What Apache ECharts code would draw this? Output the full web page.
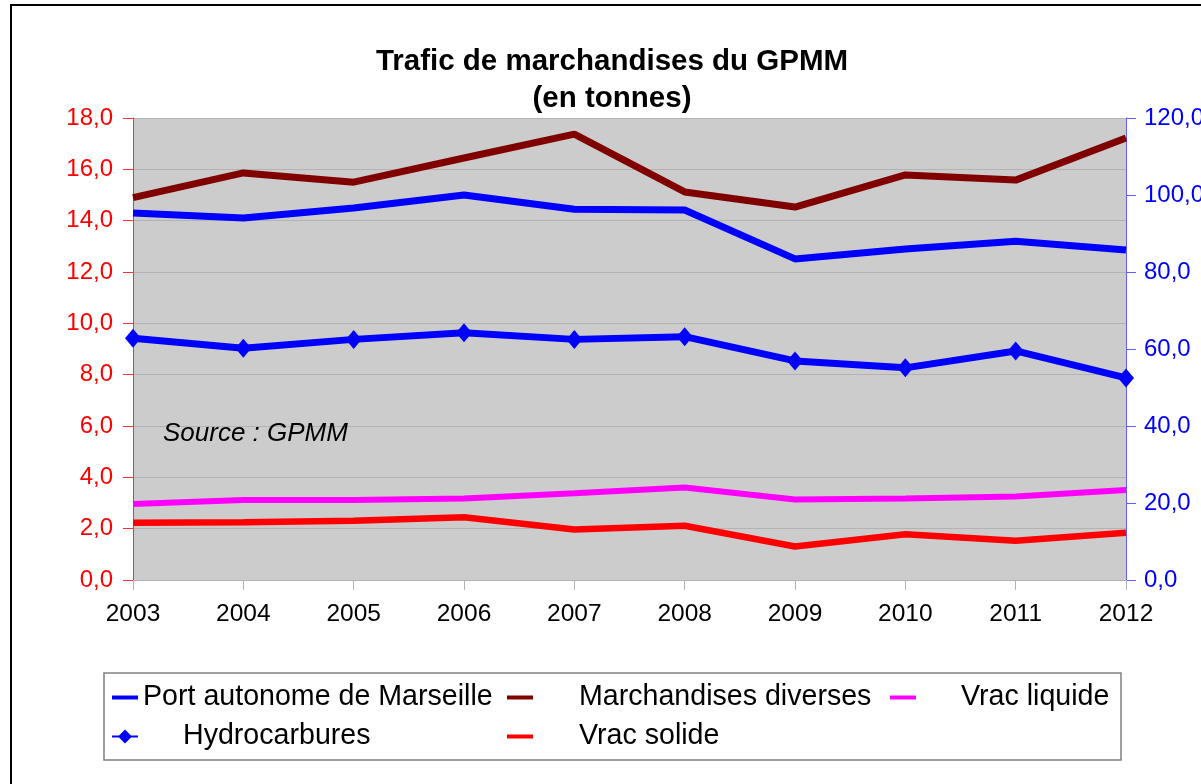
<!DOCTYPE html>
<html>
<head>
<meta charset="utf-8">
<script src="https://cdn.jsdelivr.net/npm/echarts@6/dist/echarts.min.js"></script>
<style>
html,body{margin:0;padding:0;background:#fff;overflow:hidden;}
#c{width:1201px;height:784px;}
</style>
</head>
<body>
<div id="c"></div>
<script>
// ---- Data (millions de tonnes) ----
var years = ['2003','2004','2005','2006','2007','2008','2009','2010','2011','2012'];
// right axis (0-120)
var portMarseille = [95.3, 94.0, 96.6, 100.0, 96.3, 96.1, 83.4, 86.0, 88.0, 85.7];
var hydrocarbures = [62.8, 60.2, 62.5, 64.2, 62.5, 63.2, 56.9, 55.1, 59.5, 52.5];
var vracSolide = [14.9, 15.0, 15.4, 16.3, 13.1, 14.1, 8.7, 11.9, 10.2, 12.3];
// left axis (0-18)
var marchandisesDiverses = [14.9, 15.86, 15.5, 16.44, 17.37, 15.12, 14.53, 15.78, 15.58, 17.22];
var vracLiquide = [2.96, 3.12, 3.12, 3.18, 3.38, 3.60, 3.14, 3.18, 3.25, 3.51];

var leftTicks = {min: 0, max: 18, interval: 2};
var rightTicks = {min: 0, max: 120, interval: 20};

var names = ['Port autonome de Marseille', 'Hydrocarbures', 'Marchandises diverses', 'Vrac solide', 'Vrac liquide'];

function fmt(v){ return v.toFixed(1).replace('.', ','); }

var chart = echarts.init(document.getElementById('c'), null, {width: 1201, height: 784});
var FONT = '"Liberation Sans", Arial, sans-serif';

function legendItem(name, left, top, icon, w, h, pad){
  return {
    data: [{name: name, icon: icon}],
    left: left, top: top, padding: 0,
    itemWidth: w, itemHeight: h,
    selectedMode: false,
    textStyle: {fontFamily: FONT, fontSize: 28.6, color: '#000', padding: [0,0,0,pad]}
  };
}
var hydroIcon = 'path://M0,6L7,6L13,0L19,6L26,6L26,8L19,8L13,14L7,8L0,8Z';

chart.setOption({
  backgroundColor: '#ffffff',
  animation: false,
  title: {
    text: 'Trafic de marchandises du GPMM\n(en tonnes)',
    left: 612, textAlign: 'center', top: 43, padding: 0,
    textStyle: {fontFamily: FONT, fontSize: 29.5, fontWeight: 'bold', color: '#000', lineHeight: 37}
  },
  graphic: [
    {type: 'rect', shape: {x: 11, y: 5, width: 1400, height: 1000}, style: {fill: 'none', stroke: '#000', lineWidth: 2}, z: 100, silent: true},
    {type: 'rect', shape: {x: 104, y: 673, width: 1017, height: 87}, style: {fill: 'none', stroke: '#808080', lineWidth: 1.5}, z: 100, silent: true},
    {type: 'text', x: 163, y: 434, style: {text: 'Source : GPMM', fontFamily: FONT, fontSize: 26, fontStyle: 'italic', fill: '#000', verticalAlign: 'middle'}, z: 100, silent: true}
  ],
  legend: [
    legendItem(names[0], 112, 683, 'rect', 26, 4, 0),
    legendItem(names[1], 112, 722, hydroIcon, 26, 14, 40),
    legendItem(names[2], 507, 683, 'rect', 26, 4, 41),
    legendItem(names[3], 507, 722, 'rect', 26, 4, 41),
    legendItem(names[4], 890, 683, 'rect', 26, 4, 40)
  ],
  grid: {
    left: 133, right: 75, top: 118, bottom: 204,
    show: true, backgroundColor: '#cccccc', borderWidth: 0,
    containLabel: false, outerBoundsMode: 'none'
  },
  xAxis: {
    type: 'category', data: years, boundaryGap: false,
    axisLine: {show: true, lineStyle: {color: '#b3b3b3', width: 1}},
    axisTick: {show: true, length: 10, lineStyle: {color: '#b3b3b3'}},
    axisLabel: {fontFamily: FONT, fontSize: 24.5, color: '#000', margin: 22},
    splitLine: {show: false}
  },
  yAxis: [
    {
      type: 'value', position: 'left', min: leftTicks.min, max: leftTicks.max, interval: leftTicks.interval,
      axisLine: {show: true, lineStyle: {color: '#ff3030', width: 1}},
      axisTick: {show: true, length: 10, lineStyle: {color: '#ff3030'}},
      axisLabel: {fontFamily: FONT, fontSize: 24, color: '#ff0000', margin: 20, formatter: fmt},
      splitLine: {show: true, lineStyle: {color: '#b3b3b3', width: 1}}
    },
    {
      type: 'value', position: 'right', min: rightTicks.min, max: rightTicks.max, interval: rightTicks.interval,
      axisLine: {show: true, lineStyle: {color: '#6060ff', width: 1}},
      axisTick: {show: true, length: 10, lineStyle: {color: '#6060ff'}},
      axisLabel: {fontFamily: FONT, fontSize: 24, color: '#0000ff', margin: 18, formatter: fmt},
      splitLine: {show: false}
    }
  ],
  series: [
    {name: names[2], type: 'line', yAxisIndex: 0, data: marchandisesDiverses, showSymbol: false,
      lineStyle: {color: '#800000', width: 7}, itemStyle: {color: '#800000'}},
    {name: names[4], type: 'line', yAxisIndex: 0, data: vracLiquide, showSymbol: false,
      lineStyle: {color: '#ff00ff', width: 6}, itemStyle: {color: '#ff00ff'}},
    {name: names[3], type: 'line', yAxisIndex: 1, data: vracSolide, showSymbol: false,
      lineStyle: {color: '#ff0000', width: 6.5}, itemStyle: {color: '#ff0000'}},
    {name: names[0], type: 'line', yAxisIndex: 1, data: portMarseille, showSymbol: false,
      lineStyle: {color: '#0000ff', width: 7}, itemStyle: {color: '#0000ff'}},
    {name: names[1], type: 'line', yAxisIndex: 1, data: hydrocarbures, symbol: 'diamond', symbolSize: [16, 19], showSymbol: true,
      lineStyle: {color: '#0000ff', width: 7}, itemStyle: {color: '#0000ff'}}
  ]
});
</script>
</body>
</html>
